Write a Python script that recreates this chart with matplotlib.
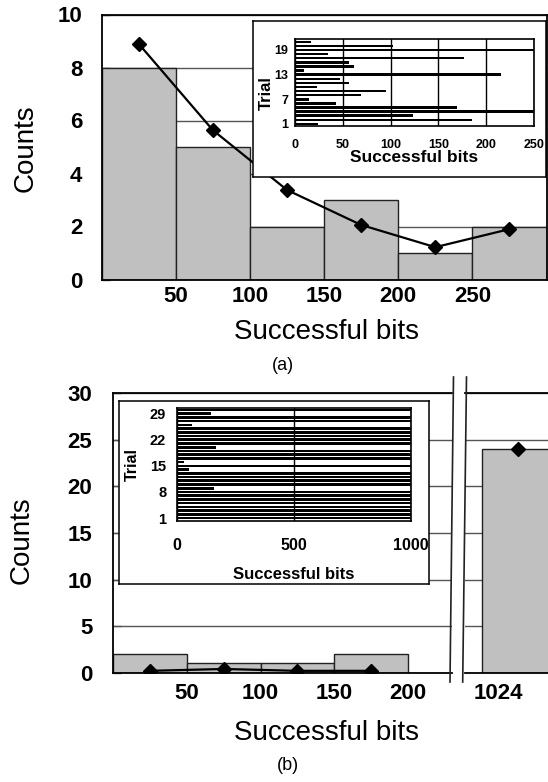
import numpy as np
import matplotlib
matplotlib.use("Agg")
import matplotlib.pyplot as plt
import matplotlib.transforms as mtrans
from matplotlib.lines import Line2D

plt.rcParams['font.family'] = ['Liberation Sans', 'DejaVu Sans']

W, H = 548, 782  # output size in pixels (dpi 100)

# ---- data (a): 21 trials, bits up to 250+ ----
trials_a = np.arange(1, 22)
bits_a = [24, 185, 123, 270, 169, 43, 15, 69, 95, 23, 56, 47, 216, 9, 62, 57, 177, 34, 280, 103, 17]
bins_a = [0, 50, 100, 150, 200, 250]
counts_a = [8, 5, 2, 3, 1, 2]
fit_x_a = [25, 75, 125, 175, 225, 275]
fit_y_a = [8.9, 5.64, 3.38, 2.06, 1.22, 1.9]

# ---- data (b): 30 trials, most reach 1024 bits ----
trials_b = np.arange(1, 31)
bits_b = [1024, 1024, 1024, 1024, 1024, 1024, 1024, 1024, 157, 1024,
          1024, 1024, 1024, 48, 1024, 27, 1024, 1024, 1024, 165,
          1024, 1024, 1024, 1024, 1024, 63, 1024, 1024, 144, 1024]
bins_b = [0, 50, 100, 150]
counts_b = [2, 1, 1, 2]
fit_x_b = [25, 75, 125, 175]
fit_y_b = [0.2, 0.4, 0.2, 0.2]
full_bin_b = 999      # left edge of the 1024 bar
full_count_b = 24
full_fit_b = 24.0

BAR = '#c0c0c0'
EDGE = '#222222'
GRID = '#555555'

fig = plt.figure(figsize=(W / 100, H / 100), dpi=100)


def px_axes(x0, y0, x1, y1):
    # axes from pixel box (top-left origin)
    return fig.add_axes([x0 / W, 1 - y1 / H, (x1 - x0) / W, (y1 - y0) / H])


def main_style(ax, ypad, xpad):
    for s in ax.spines.values():
        s.set_linewidth(1.3)
        s.set_color('black')
    ax.grid(axis='y', color=GRID, lw=1)
    ax.set_axisbelow(True)
    ax.tick_params(axis='y', direction='in', length=5.8, width=1, color=GRID,
                   labelsize=16, pad=ypad)
    ax.tick_params(axis='x', length=0, labelsize=16, pad=xpad)
    for lab in ax.get_xticklabels() + ax.get_yticklabels():
        lab.set_fontweight('bold')


def frame(x0, y0, x1, y1):
    fr = px_axes(x0, y0, x1, y1)
    fr.set_xticks([])
    fr.set_yticks([])
    fr.set_facecolor('white')
    for s in fr.spines.values():
        s.set_linewidth(1.1)
        s.set_color('black')
    return fr


# ================= (a) =================
ax = px_axes(101.5, 14.5, 546.5, 279.5)
ax.bar(bins_a, counts_a, width=50, align='edge', color=BAR, edgecolor=EDGE, lw=1, zorder=2)
ax.plot(fit_x_a, fit_y_a, color='black', lw=1.6, marker='D', ms=6.8, zorder=3)
ax.set_xlim(0, 300)
ax.set_ylim(0, 10)
ax.set_xticks([50, 100, 150, 200, 250])
ax.set_yticks(range(0, 11, 2))
main_style(ax, 13.7, 5)

frame(252.5, 21, 546, 177)
ia = px_axes(295, 39.3, 534, 126)
ia.barh(trials_a, bits_a, height=0.6, color='black')
ia.set_xlim(0, 250)
ia.set_ylim(0.5, 21.6)
ia.set_xticks([0, 50, 100, 150, 200, 250])
ia.set_yticks([1, 7, 13, 19])
ia.grid(axis='x', color='black', lw=1)
ia.set_axisbelow(True)
for s in ia.spines.values():
    s.set_linewidth(1.2)
narrow = ['Liberation Sans Narrow', 'Liberation Sans']
ia.tick_params(length=0)
ia.tick_params(axis='x', pad=9)
ia.tick_params(axis='y', pad=5)
for lab in ia.get_xticklabels() + ia.get_yticklabels():
    lab.set_family(narrow)
    lab.set_fontweight('bold')
    lab.set_fontsize(9)
ia.set_xlabel('Successful bits', family=narrow, fontweight='bold', fontsize=12.5, labelpad=0)
ia.set_ylabel('Trial', family=narrow, fontweight='bold', fontsize=12)
ia.yaxis.set_label_coords(-0.09, 0.38)

fig.text(25.5 / W, 1 - 148.5 / H, 'Counts', rotation=90, ha='center', va='center', fontsize=20)
fig.text(327 / W, 1 - 332 / H, 'Successful bits', ha='center', va='center', fontsize=20)
fig.text(283 / W, 1 - 365 / H, '(a)', ha='center', va='center', fontsize=13)

# ================= (b) =================
bl = px_axes(113.3, 393.3, 452, 672.7)
br = px_axes(465, 393.3, 548, 672.7)
bl.bar(bins_b, counts_b, width=50, align='edge', color=BAR, edgecolor=EDGE, lw=1, zorder=2)
bl.plot(fit_x_b, fit_y_b, color='black', lw=1.6, marker='D', ms=6.8, zorder=3)
br.bar([full_bin_b], [full_count_b], width=60, align='edge', color=BAR, edgecolor=EDGE, lw=1, zorder=2)
br.plot([1024], [full_fit_b], color='black', lw=0, marker='D', ms=6.8, zorder=3)
bl.set_xlim(0, 230)
br.set_xlim(987.7, 1044.2)
for a in (bl, br):
    a.set_ylim(0, 30)
    a.set_yticks(range(0, 31, 5))
bl.set_xticks([50, 100, 150, 200])
br.set_xticks([1024])
main_style(bl, 15, 7.6)
main_style(br, 15, 7.6)
bl.spines['right'].set_visible(False)
br.spines['left'].set_visible(False)
br.spines['right'].set_visible(False)
br.tick_params(axis='y', length=0, labelleft=False)
shift = mtrans.ScaledTranslation(-0.2, 0, fig.dpi_scale_trans)
for lab in br.get_xticklabels():
    lab.set_transform(lab.get_transform() + shift)

# axis break marks
for xt, xb in ((453.5, 450.0), (466.5, 462.7)):
    fig.add_artist(Line2D([xt / W, xb / W], [1 - 377 / H, 1 - 682 / H],
                          transform=fig.transFigure, color='#222222', lw=1.2))

frame(119.3, 401, 428.5, 584)
ib = px_axes(177.3, 407.7, 411, 521)
ib.barh(trials_b, bits_b, height=0.7, color='black')
ib.set_xlim(0, 1000)
ib.set_ylim(0.2, 30.6)
ib.set_xticks([0, 500, 1000])
ib.set_yticks([1, 8, 15, 22, 29])
ib.grid(axis='x', color='black', lw=1)
ib.set_axisbelow(True)
for s in ib.spines.values():
    s.set_linewidth(1.2)
ib.tick_params(length=0)
ib.tick_params(axis='x', pad=12, labelsize=11.5)
ib.tick_params(axis='y', pad=8, labelsize=10.5)
for lab in ib.get_xticklabels() + ib.get_yticklabels():
    lab.set_fontweight('bold')
ib.set_xlabel('Successful bits', fontweight='bold', fontsize=12, labelpad=10)
ib.set_ylabel('Trial', fontweight='bold', fontsize=11.5)
ib.yaxis.set_label_coords(-0.16, 0.5)

fig.text(22 / W, 1 - 540 / H, 'Counts', rotation=90, ha='center', va='center', fontsize=20)
fig.text(327 / W, 1 - 733 / H, 'Successful bits', ha='center', va='center', fontsize=20)
fig.text(288 / W, 1 - 766 / H, '(b)', ha='center', va='center', fontsize=13)

fig.savefig('out.png', dpi=100)
